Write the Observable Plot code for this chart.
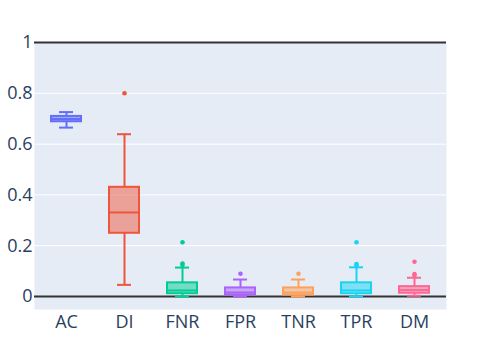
<!DOCTYPE html>
<html>
<head>
<meta charset="utf-8">
<script src="https://cdn.jsdelivr.net/npm/d3@7"></script>
<script src="https://cdn.jsdelivr.net/npm/@observablehq/plot@0.6"></script>
<style>
  html, body { margin: 0; padding: 0; background: #fff; }
  #chart { width: 482px; height: 344px; }
</style>
</head>
<body>
<div id="chart"></div>
<script>
const categories = ["AC", "DI", "FNR", "FPR", "TNR", "TPR", "DM"];
const colors = ["#636efa", "#EF553B", "#00cc96", "#ab63fa", "#FFA15A", "#19d3f3", "#FF6692"];
const lowerFence = [0.665, 0.046, 0.000, 0.000, 0.000, 0.000, 0.003];
const q1Values   = [0.688, 0.249, 0.011, 0.006, 0.006, 0.011, 0.013];
const medians    = [0.699, 0.331, 0.024, 0.016, 0.016, 0.024, 0.026];
const q3Values   = [0.709, 0.430, 0.054, 0.034, 0.034, 0.054, 0.039];
const upperFence = [0.726, 0.639, 0.114, 0.067, 0.067, 0.115, 0.074];
const outlierCats = ["DI", "FNR", "FNR", "FNR", "FPR", "TNR", "TPR", "TPR", "TPR", "DM", "DM", "DM"];
const outlierVals = [0.800, 0.214, 0.130, 0.124, 0.090, 0.090, 0.214, 0.128, 0.123, 0.137, 0.089, 0.083];
const yTicks = [0, 0.2, 0.4, 0.6, 0.8, 1];

const stats = categories.map((c, i) => ({
  cat: c, lo: lowerFence[i], q1: q1Values[i], med: medians[i], q3: q3Values[i], hi: upperFence[i]
}));
const outliers = outlierCats.map((c, i) => ({cat: c, v: outlierVals[i]}));

const chart = Plot.plot({
  width: 482,
  height: 344,
  marginLeft: 34,
  marginRight: 36,
  marginTop: 42,
  marginBottom: 35,
  style: {fontFamily: "'Open Sans', sans-serif", fontSize: "18px", color: "#2a3f5f", background: "#fff"},
  x: {domain: categories, paddingInner: 0.49, paddingOuter: 0.245, label: null},
  y: {domain: [-0.051, 1], label: null},
  color: {domain: categories, range: colors},
  marks: [
    Plot.frame({fill: "#E5ECF6", stroke: null}),
    Plot.gridY(yTicks.filter(t => t > 0 && t < 1), {stroke: "#fff", strokeOpacity: 1, strokeWidth: 1}),
    Plot.ruleY([0, 1], {stroke: "#333", strokeWidth: 2}),
    Plot.ruleX(stats, {x: "cat", y1: "lo", y2: "q1", stroke: "cat", strokeWidth: 2}),
    Plot.ruleX(stats, {x: "cat", y1: "q3", y2: "hi", stroke: "cat", strokeWidth: 2}),
    Plot.tickY(stats, {x: "cat", y: "lo", stroke: "cat", strokeWidth: 2, insetLeft: 8, insetRight: 8}),
    Plot.tickY(stats, {x: "cat", y: "hi", stroke: "cat", strokeWidth: 2, insetLeft: 8, insetRight: 8}),
    Plot.barY(stats, {x: "cat", y1: "q1", y2: "q3", fill: "cat", fillOpacity: 0.5, stroke: "cat", strokeWidth: 2}),
    Plot.tickY(stats, {x: "cat", y: "med", stroke: "cat", strokeWidth: 2}),
    Plot.dot(outliers, {x: "cat", y: "v", fill: "cat", r: 2.3, stroke: null}),
    Plot.axisY({ticks: yTicks, tickFormat: d => String(d), tickSize: 0, tickPadding: 2, fontSize: 18, fill: "#2a3f5f"}),
    Plot.axisX({tickSize: 0, tickPadding: 6, fontSize: 18, fill: "#2a3f5f"})
  ]
});
document.getElementById("chart").appendChild(chart);
</script>
</body>
</html>
